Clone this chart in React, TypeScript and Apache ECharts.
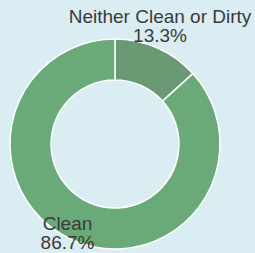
import React, { useEffect, useRef } from "react";
import * as echarts from "echarts";

const categories = ["Neither Clean or Dirty", "Clean"];
const values = [13.3, 86.7];
const colors = ["#6a9a74", "#6aaa78"];
const labelPos = [
  { x: 160, y: 25.6 },
  { x: 67.5, y: 233 },
];

export default function App() {
  const ref = useRef<HTMLDivElement>(null);
  useEffect(() => {
    const chart = echarts.init(ref.current!, null, { renderer: "svg" });
    chart.setOption({
      animation: false,
      backgroundColor: "#daedf3",
      series: [
        {
          type: "pie",
          center: [115, 144],
          radius: [64, 105],
          startAngle: 90,
          clockwise: true,
          avoidLabelOverlap: false,
          itemStyle: { borderColor: "#ffffff", borderWidth: 1.5 },
          label: {
            show: true,
            position: "outside",
            formatter: (p: any) => `${p.name}\n${p.value.toFixed(1)}%`,
            color: "#3a3a3a",
            fontFamily: "Liberation Sans, Arial, sans-serif",
            fontSize: 19,
            lineHeight: 19,
            align: "center",
            overflow: "none",
            width: 300,
          },
          labelLine: { show: false },
          labelLayout: (params: any) => ({
            x: labelPos[params.dataIndex].x,
            y: labelPos[params.dataIndex].y,
            align: "center",
            verticalAlign: "middle",
          }),
          emphasis: { disabled: true },
          data: categories.map((c, i) => ({
            name: c,
            value: values[i],
            itemStyle: { color: colors[i] },
          })),
        },
      ],
    });
    return () => chart.dispose();
  }, []);
  return (
    <div
      ref={ref}
      style={{ position: "fixed", left: 0, top: 0, width: 255, height: 253 }}
    />
  );
}
